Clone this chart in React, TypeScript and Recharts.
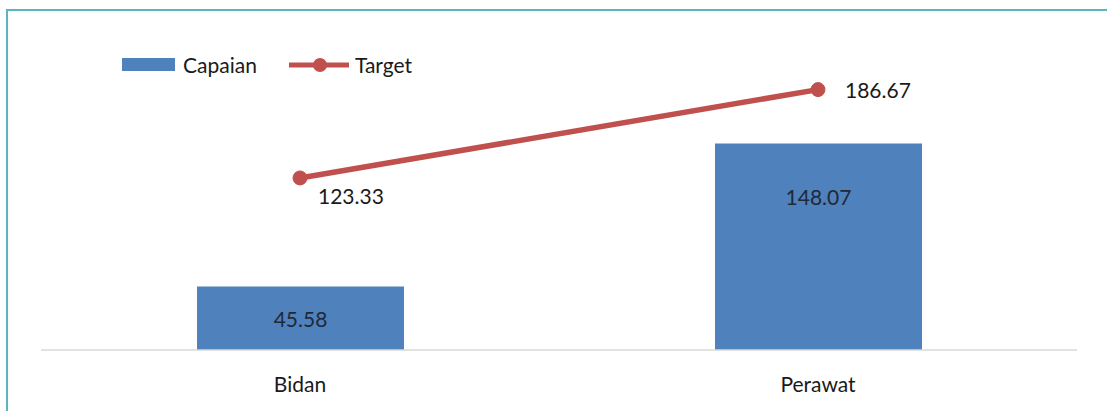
import React from 'react';
import { ComposedChart, Bar, Line, XAxis, YAxis, Legend, LabelList } from 'recharts';

const categories = ['Bidan', 'Perawat'];
const capaian = [45.58, 148.07];
const target = [123.33, 186.67];

const data = categories.map((name, i) => ({ name, capaian: capaian[i], target: target[i] }));

const FONT = 'Lato, "Open Sans", sans-serif';
const BLUE = '#4f81bd';
const RED = '#c0504d';

const LegendContent = () => (
  <div style={{ display: 'flex', alignItems: 'center', fontFamily: FONT, fontSize: 21, color: '#1a1a1a' }}>
    <span style={{ display: 'inline-block', width: 53, height: 13, background: BLUE, marginRight: 8 }} />
    <span>Capaian</span>
    <svg width={60} height={16} style={{ marginLeft: 32, marginRight: 6 }}>
      <line x1={0} y1={8} x2={60} y2={8} stroke={RED} strokeWidth={5} />
      <circle cx={31} cy={8} r={7} fill={RED} />
    </svg>
    <span>Target</span>
  </div>
);

const BarValueLabel = (props: any) => {
  const { x, y, width, height, value } = props;
  const cy = y + Math.min(height / 2, 53);
  return (
    <text x={x + width / 2} y={cy} textAnchor="middle" dominantBaseline="central" fontFamily={FONT} fontSize={21} fill="#1f2937">
      {Number(value).toFixed(2)}
    </text>
  );
};

const LineValueLabel = (props: any) => {
  const { x, y, value, index } = props;
  const below = index === 0;
  return (
    <text
      x={below ? x + 18 : x + 27}
      y={below ? y + 18 : y}
      textAnchor="start"
      dominantBaseline="central"
      fontFamily={FONT}
      fontSize={21}
      fill="#1a1a1a"
    >
      {Number(value).toFixed(2)}
    </text>
  );
};

export default function App() {
  return (
    <div
      style={{
        position: 'absolute',
        left: 6,
        top: 9,
        width: 1101,
        height: 402,
        borderTop: '2px solid #5bb5bf',
        borderLeft: '2px solid #5bb5bf',
        background: '#fff',
      }}
    >
      <ComposedChart width={1099} height={400} data={data} margin={{ top: 60, right: 30, bottom: 21, left: 33 }}>
        <XAxis
          dataKey="name"
          height={40}
          tickLine={false}
          axisLine={{ stroke: '#d9d9d9', strokeWidth: 1.5 }}
          tickMargin={21}
          tick={{ fontFamily: FONT, fontSize: 21, fill: '#1a1a1a' }}
        />
        <YAxis hide domain={[0, 200]} />
        <Legend
          layout="horizontal"
          verticalAlign="middle"
          align="center"
          content={<LegendContent />}
          wrapperStyle={{ top: 41, left: 114, width: 'auto' }}
        />
        <Bar dataKey="capaian" name="Capaian" fill={BLUE} barSize={207} isAnimationActive={false}>
          <LabelList dataKey="capaian" content={<BarValueLabel />} />
        </Bar>
        <Line
          dataKey="target"
          name="Target"
          stroke={RED}
          strokeWidth={5.5}
          dot={{ r: 7, fill: RED, stroke: RED, strokeWidth: 1 }}
          activeDot={false}
          isAnimationActive={false}
        >
          <LabelList dataKey="target" content={<LineValueLabel />} />
        </Line>
      </ComposedChart>
    </div>
  );
}
